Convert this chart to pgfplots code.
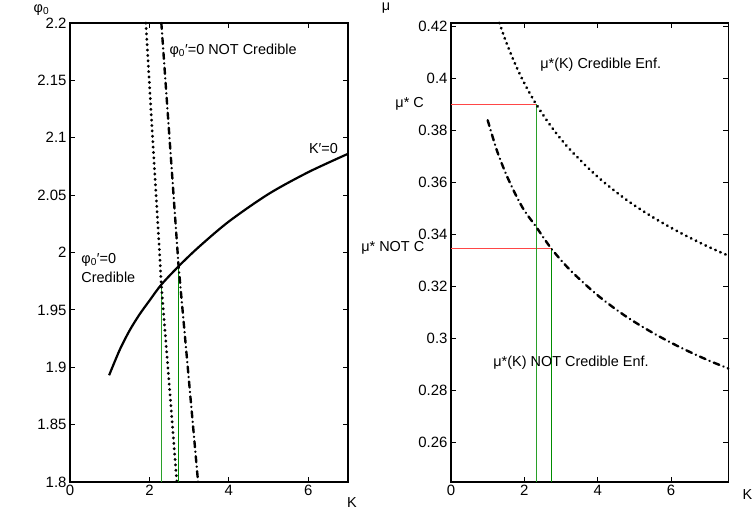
\documentclass[border=0pt]{standalone}
\usepackage{fontspec}
\setmainfont{Liberation Sans}
\usepackage{pgfplots}
\pgfplotsset{compat=1.18}
\definecolor{lgreen}{RGB}{40,160,40}
\definecolor{dgreen}{RGB}{0,140,0}
\definecolor{mred}{RGB}{255,70,70}

\pgfplotsset{
  mstyle/.style={
    scale only axis, clip=false, anchor=south west,
    font=\fontsize{14.5}{17}\selectfont,
    tick label style={font=\fontsize{15}{17}\selectfont},
    /pgf/number format/assume math mode=true,
    axis line style={line width=1.1bp},
    major tick length=5bp,
    tick style={line width=0.8bp, black},
    scaled ticks=false,
    yticklabel style={/pgf/number format/fixed, /pgf/number format/precision=2},
    xtick={0,2,4,6},
  },
  dotc/.style={black, line width=3bp, line cap=round, dash pattern=on 0.2bp off 5.2bp},
  dashdotc/.style={black, line width=2.4bp, line cap=round, dash pattern=on 6bp off 4.4bp on 0.2bp off 4.4bp},
}

\begin{document}
\begin{tikzpicture}
\useasboundingbox (0,0) rectangle (754bp,521bp);

% left panel: phi_0 vs K
\begin{axis}[mstyle, at={(70bp,39bp)}, width=278bp, height=459bp,
  xmin=0, xmax=7, ymin=1.8, ymax=2.2,
  ytick={1.8,1.85,1.9,1.95,2,2.05,2.1,2.15,2.2}]
\addplot[lgreen, line width=1.1bp] coordinates {(2.31,1.8)(2.31,1.972)};
\addplot[dgreen, line width=1.1bp] coordinates {(2.735,1.8)(2.735,1.988)};
% K'=0
\addplot[black, line width=2.2bp, smooth] coordinates {
  (0.985,1.893)(1.25,1.915)(1.5,1.932)(1.75,1.946)(2.0,1.958)(2.3,1.972)
  (2.75,1.9885)(3.25,2.005)(4.0,2.027)(5.0,2.051)(6.0,2.070)(7.0,2.086)};
% phi_0'=0 credible
\addplot[dotc, smooth] coordinates {
  (1.91,2.2)(2.08,2.1)(2.255,2.0)(2.30,1.972)(2.465,1.9)(2.69,1.8)};
% phi_0'=0 not credible
\addplot[dashdotc, smooth] coordinates {
  (2.30,2.2)(2.505,2.1)(2.71,2.0)(2.735,1.988)(2.965,1.9)(3.225,1.8)};
\node[anchor=west] at (axis cs:2.42,2.176) {φ\textsubscript{0}′=0 NOT Credible};
\node[anchor=west] at (axis cs:5.93,2.091) {K′=0};
\node[anchor=west] at (axis cs:0.2,1.9935) {φ\textsubscript{0}′=0};
\node[anchor=west] at (axis cs:0.2,1.978) {Credible};
\node at (axis cs:-0.72,2.2115) {φ\textsubscript{0}};
\node at (axis cs:7.10,1.7817) {K};
\end{axis}

% right panel: mu vs K
\begin{axis}[mstyle, at={(451bp,39bp)}, width=277.3bp, height=459bp,
  xmin=0, xmax=7.56, ymin=0.2446, ymax=0.4212,
  ytick={0.26,0.28,0.3,0.32,0.34,0.36,0.38,0.4,0.42}]
\addplot[mred, line width=1bp] coordinates {(0,0.39)(2.32,0.39)};
\addplot[mred, line width=1bp] coordinates {(0,0.3345)(2.73,0.3345)};
\addplot[lgreen, line width=1bp] coordinates {(2.32,0.2446)(2.32,0.39)};
\addplot[dgreen, line width=1bp] coordinates {(2.73,0.2446)(2.73,0.3345)};
% mu*(K) credible
\addplot[dotc, smooth] coordinates {
  (1.32,0.4212)(1.5,0.4140)(1.75,0.4054)(2.0,0.3980)(2.32,0.3900)(2.75,0.3810)
  (3.25,0.3724)(4.0,0.3620)(4.75,0.3535)(5.5,0.3465)(6.25,0.3405)(7.0,0.3352)(7.56,0.3317)};
% mu*(K) not credible
\addplot[dashdotc, smooth] coordinates {
  (1.0,0.3838)(1.25,0.3722)(1.5,0.3631)(1.75,0.3555)(2.0,0.3490)(2.32,0.3428)
  (2.73,0.3345)(3.25,0.3261)(4.0,0.3164)(4.75,0.3085)(5.5,0.3020)(6.25,0.2964)
  (7.0,0.2915)(7.56,0.2883)};
\node[anchor=west] at (axis cs:2.34,0.405) {μ*(K) Credible Enf.};
\node[anchor=west] at (axis cs:1.06,0.2904) {μ*(K) NOT Credible Enf.};
\node[anchor=west] at (axis cs:-1.61,0.39) {μ* C};
\node[anchor=west] at (axis cs:-2.54,0.3347) {μ* NOT C};
\node at (axis cs:-1.77,0.4269) {μ};
\node at (axis cs:8.08,0.2396) {K};
\end{axis}
\end{tikzpicture}
\end{document}
